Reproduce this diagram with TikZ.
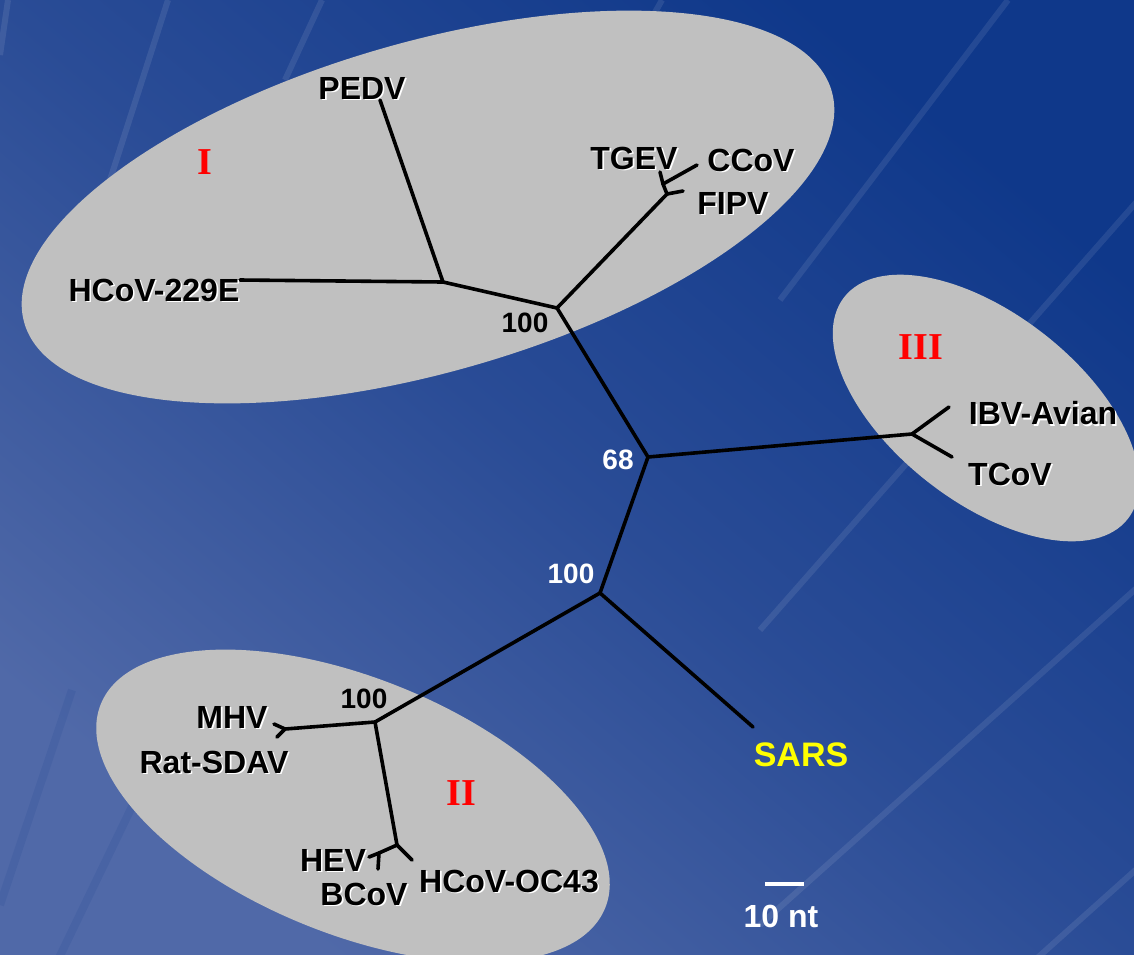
\documentclass[tikz,border=0pt]{standalone}
\usepackage{fontspec}
\setmainfont{Liberation Sans}
\newfontfamily\romanfont{Liberation Serif}
\definecolor{bgdark}{HTML}{0F388A}
\definecolor{bgmid}{HTML}{2A4C96}
\definecolor{bglight}{HTML}{5069A8}
\definecolor{clustergrey}{HTML}{C0C0C0}
\definecolor{sarsyellow}{HTML}{FFFF00}
\definecolor{groupred}{HTML}{FF0000}

% label with a thin white drop shadow: name, position, text
\newcommand\shlabel[3]{%
  \node[lbl, text=white, xshift=0.8pt, yshift=-0.8pt] (#1-sh) at (#2) {#3};
  \node[lbl] (#1) at (#2) {#3};}

\begin{document}
\begin{tikzpicture}[x=0.5pt, y=-0.5pt,
  branch/.style={line width=1.8pt, line cap=round, line join=round},
  lbl/.style={font=\bfseries\fontsize{16}{18}\selectfont, inner sep=0pt, text=black},
  boot/.style={font=\bfseries\fontsize{14}{16}\selectfont, inner sep=0pt},
  grp/.style={font=\romanfont\bfseries\fontsize{19}{21}\selectfont, text=groupred, inner sep=0pt},
  cluster/.style={fill=clustergrey},
  streak/.style={white, opacity=0.09, line width=3pt},
  darkstreak/.style={bgdark, opacity=0.12, line width=4pt}]

% background
\useasboundingbox (0,0) rectangle (1134,954);
\shade[top color=bgdark, bottom color=bglight, middle color=bgmid, shading angle=-40]
  (0,0) rectangle (1134,954);
\begin{scope}
  \clip (0,0) rectangle (1134,954);
  \draw[streak] (8,0) -- (0,55);
  \draw[streak] (168,0) -- (110,180);
  \draw[streak] (322,0) -- (285,80);
  \draw[streak] (662,0) -- (645,30);
  \draw[streak] (1008,0) -- (780,300);
  \draw[streak] (1140,198) -- (760,630);
  \draw[streak] (1140,585) -- (760,925);
  \draw[streak] (1140,866) -- (1035,960);
  \draw[darkstreak] (72,690) -- (0,905);
  \draw[darkstreak] (140,790) -- (58,960);
\end{scope}

% clusters
\coordinate (c1) at (428,207);
\coordinate (c2) at (353,806);
\coordinate (c3) at (986,408);
\begin{scope}
  \clip (0,0) rectangle (1134,954);
  \fill[cluster, rotate around={16:(c1)}] (c1) ellipse [x radius=210pt, y radius=82.5pt];
  \fill[cluster, rotate around={-22:(c2)}] (c2) ellipse [x radius=136pt, y radius=64pt];
  \fill[cluster, rotate around={-38:(c3)}] (c3) ellipse [x radius=90pt, y radius=47pt];
\end{scope}

% tree nodes and tips
\coordinate (n1) at (557,308);
\coordinate (nPH) at (443,282);
\coordinate (tPEDV) at (380,100);
\coordinate (t229E) at (240,280);
\coordinate (nA) at (667,194);
\coordinate (tFIPV) at (683,191);
\coordinate (nB) at (663,184);
\coordinate (tCCoV) at (697,165);
\coordinate (tTGEV) at (660,172);
\coordinate (n68) at (648,457);
\coordinate (n3) at (912,434);
\coordinate (tIBV) at (949,407);
\coordinate (tTCoV) at (952,457);
\coordinate (n100) at (600,593);
\coordinate (tSARS) at (753,727);
\coordinate (n2) at (375,722);
\coordinate (nMR) at (285,729);
\coordinate (tMHV) at (274,724);
\coordinate (tRat) at (277,737);
\coordinate (nHB) at (397,845);
\coordinate (tOC43) at (412,860);
\coordinate (nHE) at (379,853);
\coordinate (tHEV) at (369,857);
\coordinate (tBCoV) at (378,869);

% branches
\draw[branch] (n68) -- (n1);
\draw[branch] (n1) -- (nPH);
\draw[branch] (nPH) -- (tPEDV);
\draw[branch] (nPH) -- (t229E);
\draw[branch] (n1) -- (nA);
\draw[branch] (nA) -- (tFIPV);
\draw[branch] (nA) -- (nB);
\draw[branch] (nB) -- (tCCoV);
\draw[branch] (nB) -- (tTGEV);
\draw[branch] (n68) -- (n3);
\draw[branch] (n3) -- (tIBV);
\draw[branch] (n3) -- (tTCoV);
\draw[branch] (n68) -- (n100);
\draw[branch] (n100) -- (tSARS);
\draw[branch] (n100) -- (n2);
\draw[branch] (n2) -- (nMR);
\draw[branch] (nMR) -- (tMHV);
\draw[branch] (nMR) -- (tRat);
\draw[branch] (n2) -- (nHB);
\draw[branch] (nHB) -- (tOC43);
\draw[branch] (nHB) -- (nHE);
\draw[branch] (nHE) -- (tHEV);
\draw[branch] (nHE) -- (tBCoV);

% taxon labels
\shlabel{PEDV}{362,88}{PEDV}
\shlabel{TGEV}{634,158}{TGEV}
\shlabel{CCoV}{751,160}{CCoV}
\shlabel{FIPV}{733,203}{FIPV}
\shlabel{HCoV229E}{154,290}{HCoV-229E}
\shlabel{IBV}{1043,413}{IBV-Avian}
\shlabel{TCoV}{1010,474}{TCoV}
\shlabel{MHV}{232,717}{MHV}
\shlabel{RatSDAV}{214,762}{Rat-SDAV}
\shlabel{HEV}{333,860}{HEV}
\shlabel{BCoV}{364,894}{BCoV}
\shlabel{OC43}{509,881}{HCoV-OC43}
\node[lbl, text=sarsyellow, font=\bfseries\fontsize{17}{19}\selectfont] (SARS) at (801,755) {SARS};

% bootstrap values
\node[boot] (b1) at (525,323) {100};
\node[boot, text=white] (b68) at (618,460) {68};
\node[boot, text=white] (b100) at (571,574) {100};
\node[boot] (b2) at (364,699) {100};

% group numerals
\node[grp] (gI) at (205,162) {I};
\node[grp] (gII) at (461,793) {II};
\node[grp] (gIII) at (921,347) {III};

% scale bar
\coordinate (sb1) at (765,884);
\coordinate (sb2) at (804,884);
\draw[white, line width=2pt] (sb1) -- (sb2);
\node[lbl, text=white] (scale) at (781,916) {10 nt};
\end{tikzpicture}
\end{document}
